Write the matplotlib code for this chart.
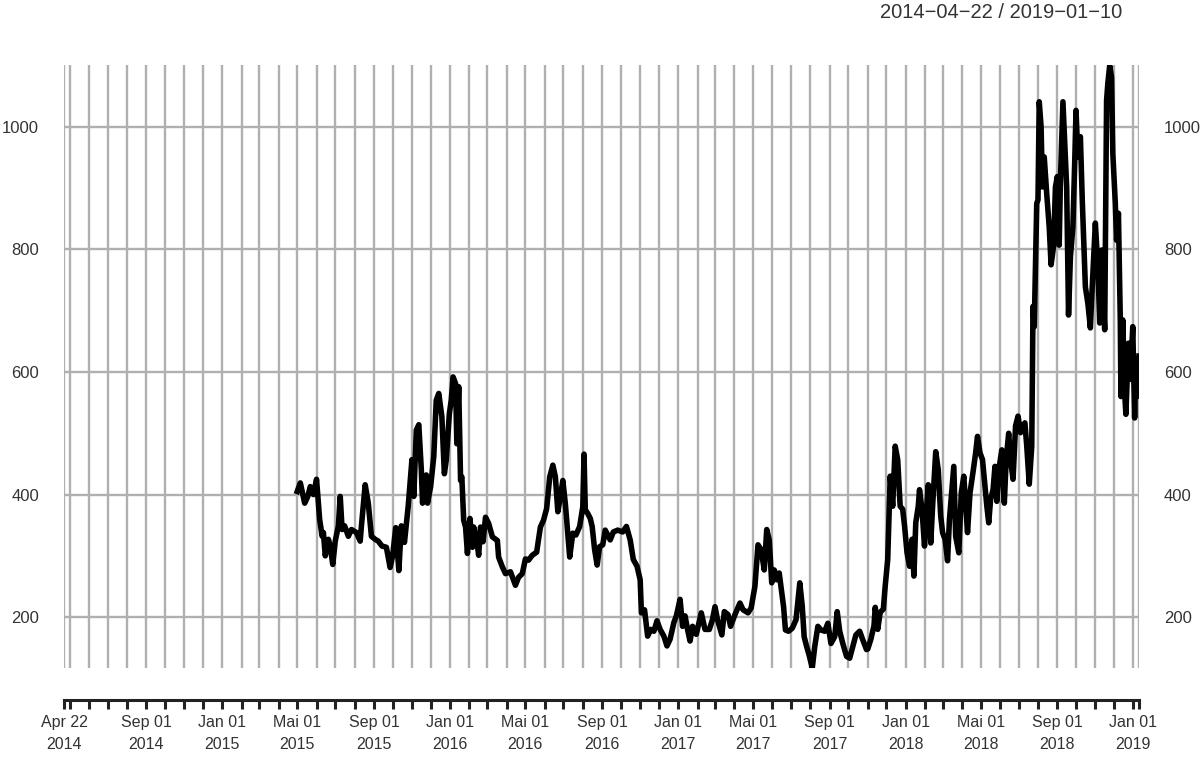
import matplotlib
matplotlib.use("Agg")
import matplotlib.pyplot as plt
import matplotlib.transforms as mtransforms
import pandas as pd

dates = [
    "2015-05-01", "2015-05-06", "2015-05-13", "2015-05-18", "2015-05-22", "2015-05-27",
    "2015-06-01", "2015-06-06", "2015-06-10", "2015-06-12", "2015-06-15", "2015-06-20",
    "2015-06-23", "2015-06-27", "2015-07-01", "2015-07-06", "2015-07-09", "2015-07-12",
    "2015-07-16", "2015-07-22", "2015-07-27", "2015-08-04", "2015-08-10", "2015-08-12",
    "2015-08-18", "2015-08-23", "2015-08-28", "2015-09-03", "2015-09-08", "2015-09-14",
    "2015-09-21", "2015-09-27", "2015-10-01", "2015-10-06", "2015-10-11", "2015-10-15",
    "2015-10-20", "2015-10-26", "2015-11-01", "2015-11-04", "2015-11-08", "2015-11-12",
    "2015-11-16", "2015-11-18", "2015-11-24", "2015-11-26", "2015-12-01", "2015-12-06",
    "2015-12-10", "2015-12-14", "2015-12-19", "2015-12-23", "2015-12-26", "2015-12-31",
    "2016-01-03", "2016-01-06", "2016-01-10", "2016-01-12", "2016-01-15", "2016-01-18",
    "2016-01-20", "2016-01-23", "2016-01-26", "2016-01-29", "2016-02-02", "2016-02-06",
    "2016-02-08", "2016-02-13", "2016-02-16", "2016-02-19", "2016-02-23", "2016-02-27",
    "2016-03-03", "2016-03-09", "2016-03-17", "2016-03-19", "2016-03-25", "2016-03-30",
    "2016-04-07", "2016-04-15", "2016-04-20", "2016-04-26", "2016-05-01", "2016-05-06",
    "2016-05-12", "2016-05-19", "2016-05-25", "2016-05-30", "2016-06-04", "2016-06-09",
    "2016-06-14", "2016-06-18", "2016-06-22", "2016-06-26", "2016-06-30", "2016-07-04",
    "2016-07-11", "2016-07-16", "2016-07-21", "2016-07-27", "2016-08-01", "2016-08-03",
    "2016-08-05", "2016-08-09", "2016-08-13", "2016-08-16", "2016-08-20", "2016-08-24",
    "2016-08-28", "2016-09-02", "2016-09-06", "2016-09-10", "2016-09-14", "2016-09-19",
    "2016-09-26", "2016-10-04", "2016-10-10", "2016-10-16", "2016-10-21", "2016-10-27",
    "2016-11-01", "2016-11-03", "2016-11-08", "2016-11-13", "2016-11-18", "2016-11-23",
    "2016-11-28", "2016-12-03", "2016-12-09", "2016-12-14", "2016-12-19", "2016-12-25",
    "2016-12-29", "2017-01-04", "2017-01-08", "2017-01-12", "2017-01-16", "2017-01-20",
    "2017-01-24", "2017-01-30", "2017-02-07", "2017-02-13", "2017-02-20", "2017-02-25",
    "2017-03-01", "2017-03-05", "2017-03-12", "2017-03-16", "2017-03-22", "2017-03-26",
    "2017-04-02", "2017-04-10", "2017-04-15", "2017-04-23", "2017-04-28", "2017-05-04",
    "2017-05-09", "2017-05-14", "2017-05-19", "2017-05-23", "2017-05-27", "2017-05-31",
    "2017-06-04", "2017-06-08", "2017-06-12", "2017-06-19", "2017-06-22", "2017-06-27",
    "2017-07-03", "2017-07-09", "2017-07-15", "2017-07-19", "2017-07-22", "2017-07-26",
    "2017-07-30", "2017-08-04", "2017-08-08", "2017-08-13", "2017-08-18", "2017-08-24",
    "2017-08-29", "2017-09-03", "2017-09-09", "2017-09-13", "2017-09-17", "2017-09-22",
    "2017-09-28", "2017-10-03", "2017-10-08", "2017-10-13", "2017-10-19", "2017-10-24",
    "2017-10-30", "2017-11-01", "2017-11-06", "2017-11-11", "2017-11-13", "2017-11-17",
    "2017-11-21", "2017-11-26", "2017-11-29", "2017-12-03", "2017-12-07", "2017-12-11",
    "2017-12-15", "2017-12-19", "2017-12-23", "2017-12-27", "2017-12-30", "2018-01-03",
    "2018-01-07", "2018-01-11", "2018-01-14", "2018-01-17", "2018-01-21", "2018-01-23",
    "2018-01-27", "2018-01-31", "2018-02-03", "2018-02-06", "2018-02-10", "2018-02-13",
    "2018-02-18", "2018-02-22", "2018-02-26", "2018-03-01", "2018-03-05", "2018-03-09",
    "2018-03-12", "2018-03-16", "2018-03-19", "2018-03-22", "2018-03-27", "2018-03-31",
    "2018-04-04", "2018-04-08", "2018-04-10", "2018-04-14", "2018-04-19", "2018-04-23",
    "2018-04-26", "2018-04-30", "2018-05-04", "2018-05-08", "2018-05-11", "2018-05-14",
    "2018-05-17", "2018-05-21", "2018-05-24", "2018-05-27", "2018-05-31", "2018-06-04",
    "2018-06-08", "2018-06-11", "2018-06-15", "2018-06-18", "2018-06-22", "2018-06-26",
    "2018-06-30", "2018-07-04", "2018-07-08", "2018-07-11", "2018-07-14", "2018-07-18",
    "2018-07-22", "2018-07-24", "2018-07-26", "2018-07-30", "2018-08-01", "2018-08-03",
    "2018-08-06", "2018-08-08", "2018-08-11", "2018-08-15", "2018-08-19", "2018-08-22",
    "2018-08-26", "2018-08-29", "2018-09-01", "2018-09-04", "2018-09-06", "2018-09-10",
    "2018-09-13", "2018-09-16", "2018-09-19", "2018-09-22", "2018-09-26", "2018-09-29",
    "2018-10-01", "2018-10-04", "2018-10-08", "2018-10-11", "2018-10-16", "2018-10-20",
    "2018-10-24", "2018-10-27", "2018-11-01", "2018-11-05", "2018-11-08", "2018-11-11",
    "2018-11-13", "2018-11-16", "2018-11-19", "2018-11-21", "2018-11-24", "2018-11-27",
    "2018-11-29", "2018-12-03", "2018-12-05", "2018-12-08", "2018-12-11", "2018-12-12",
    "2018-12-15", "2018-12-18", "2018-12-20", "2018-12-24", "2018-12-27", "2018-12-31",
    "2019-01-03", "2019-01-05", "2019-01-07", "2019-01-10",
]
values = [
    405, 419, 386, 397, 413, 400,
    425, 359, 332, 338, 300, 327,
    316, 286, 324, 349, 397, 343,
    349, 332, 343, 338, 324, 349,
    416, 386, 332, 327, 324, 316,
    314, 281, 300, 346, 276, 349,
    322, 381, 457, 397, 505, 514,
    441, 386, 432, 386, 413, 462,
    554, 565, 527, 434, 456, 532,
    554, 592, 581, 483, 576, 423,
    429, 358, 347, 304, 361, 314,
    347, 325, 301, 347, 323, 363,
    353, 331, 325, 298, 282, 271,
    274, 252, 265, 271, 295, 293,
    301, 306, 347, 358, 377, 429,
    448, 429, 372, 396, 423, 385,
    298, 337, 334, 348, 380, 466,
    375, 369, 361, 348, 310, 285,
    315, 318, 342, 334, 326, 339,
    342, 339, 348, 326, 294, 283,
    261, 207, 212, 169, 180, 177,
    194, 180, 169, 153, 164, 191,
    202, 229, 185, 202, 180, 161,
    185, 172, 207, 180, 180, 196,
    217, 196, 171, 209, 204, 185,
    204, 223, 212, 207, 215, 250,
    318, 310, 277, 343, 326, 256,
    277, 261, 272, 217, 179, 177,
    182, 196, 256, 217, 168, 152,
    138, 117, 152, 185, 179, 177,
    190, 157, 168, 209, 177, 157,
    136, 133, 152, 171, 177, 163,
    147, 148, 164, 186, 216, 180,
    208, 213, 251, 294, 430, 381,
    479, 457, 381, 376, 349, 305,
    283, 327, 267, 354, 381, 408,
    376, 316, 370, 416, 321, 381,
    470, 441, 365, 338, 327, 292,
    359, 408, 446, 332, 305, 403,
    430, 370, 338, 403, 438, 468,
    495, 468, 457, 414, 381, 354,
    392, 408, 446, 389, 446, 473,
    386, 457, 500, 457, 425, 512,
    528, 501, 512, 517, 479, 417,
    479, 707, 674, 875, 881, 1041,
    1000, 902, 951, 891, 837, 775,
    805, 902, 919, 807, 913, 1041,
    973, 902, 693, 788, 837, 946,
    1027, 951, 984, 881, 739, 712,
    672, 739, 843, 772, 680, 799,
    739, 669, 1043, 1071, 1100, 1081,
    957, 875, 815, 859, 685, 560,
    685, 566, 531, 647, 588, 674,
    525, 620, 560, 626,
]

start_date = "2014-04-22"
end_date = "2019-01-10"
title = "2014\u221204\u221222 / 2019\u221201\u221210"

y_ticks = [200, 400, 600, 800, 1000]
label_dates = ["2014-04-22", "2014-09-01", "2015-01-01", "2015-05-01", "2015-09-01",
               "2016-01-01", "2016-05-01", "2016-09-01", "2017-01-01", "2017-05-01",
               "2017-09-01", "2018-01-01", "2018-05-01", "2018-09-01", "2019-01-01"]
label_texts = ["Apr 22\n2014", "Sep 01\n2014", "Jan 01\n2015", "Mai 01\n2015", "Sep 01\n2015",
               "Jan 01\n2016", "Mai 01\n2016", "Sep 01\n2016", "Jan 01\n2017", "Mai 01\n2017",
               "Sep 01\n2017", "Jan 01\n2018", "Mai 01\n2018", "Sep 01\n2018", "Jan 01\n2019"]

plt.rcParams["font.family"] = ["Liberation Sans", "DejaVu Sans"]

x = pd.to_datetime(dates)
t0 = pd.Timestamp(start_date)
t1 = pd.Timestamp(end_date)

# every month start + both ends get a tick and a grid line
tick_pos = [t0] + list(pd.date_range("2014-05-01", "2019-01-01", freq="MS")) + [t1]

fig = plt.figure(figsize=(12, 7.62), dpi=100)
ax = fig.add_axes([64 / 1200, 1 - 668 / 762, 1075 / 1200, 603 / 762])

grid_col = "#b0b0b0"
for t in tick_pos:
    ax.axvline(t, color=grid_col, lw=1.7, zorder=1)
for v in y_ticks:
    ax.axhline(v, color=grid_col, lw=1.7, zorder=1)

ax.plot(x, values, color="black", lw=4.0, solid_joinstyle="round", zorder=3)

ax.set_xlim(t0, t1)
ax.set_ylim(117, 1101)

ax.set_xticks(tick_pos)
ax.set_xticklabels([""] * len(tick_pos))
ax.set_yticks(y_ticks)
ax.set_yticklabels([str(v) for v in y_ticks])

ax.tick_params(axis="y", length=0, pad=18, labelleft=True, labelright=True,
               labelsize=12, labelcolor="#333333")
ax.tick_params(axis="x", direction="out", length=6.5, width=2.2, color="#222222")

# two-line date labels under the axis
trans = mtransforms.blended_transform_factory(ax.transData, ax.transAxes)
for d, s in zip(pd.to_datetime(label_dates), label_texts):
    ax.text(d, -(715 - 668) / 603, s, transform=trans, ha="center", va="top",
            fontsize=11.5, color="#333333", linespacing=1.55)

for s in ["top", "left", "right"]:
    ax.spines[s].set_visible(False)
ax.spines["bottom"].set_position(("outward", 23))
ax.spines["bottom"].set_linewidth(2.2)
ax.spines["bottom"].set_color("#222222")

fig.text(1122 / 1200, 1 - 13 / 762, title, ha="right", va="center", fontsize=14.5, color="#333333")

plt.savefig("out.png", dpi=100)
